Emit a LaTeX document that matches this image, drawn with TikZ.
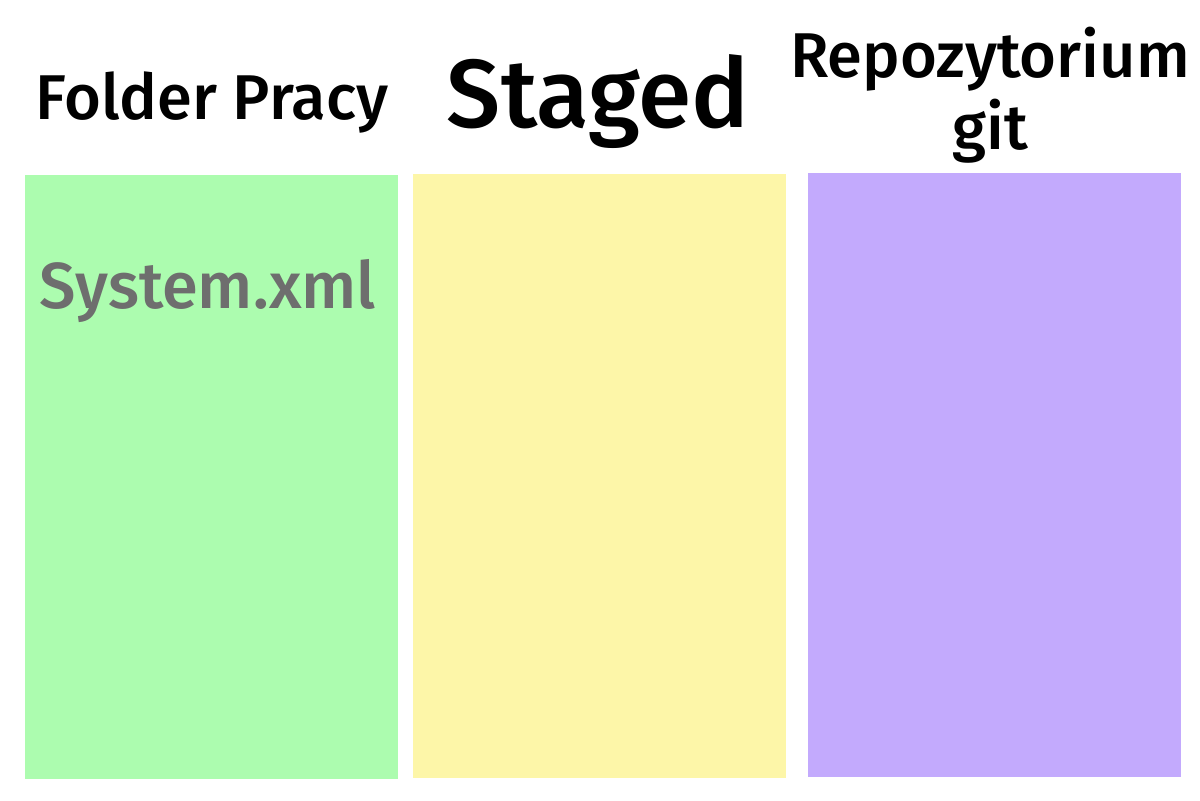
\documentclass[tikz,border=0pt]{standalone}
\usepackage{fontspec}
\setmainfont{Fira Sans}[UprightFont=* Medium]
\usepackage{tikz}
\usetikzlibrary{positioning}
\definecolor{areagreen}{HTML}{ACFCAF}
\definecolor{areayellow}{HTML}{FDF6A8}
\definecolor{areapurple}{HTML}{C3AAFD}
\definecolor{filegray}{HTML}{6E6E6E}
\tikzset{
  area/.style={draw=none,minimum width=7.46cm,minimum height=12.08cm,anchor=south west,inner sep=0pt},
  title/.style={align=center,font=\fontsize{36}{41}\selectfont},
  bigtitle/.style={font=\fontsize{55}{58}\selectfont},
  file/.style={text=filegray,font=\fontsize{37}{40}\selectfont}
}
\begin{document}
\begin{tikzpicture}
  \useasboundingbox (0,0) rectangle (24,16);
  \node[area,fill=areagreen] (work) at (0.5,0.42) {};
  \node[area,fill=areayellow] (stage) at (8.26,0.44) {};
  \node[area,fill=areapurple] (repo) at (16.16,0.46) {};
  \node[title] (worklabel) at (4.24,13.95) {Folder Pracy};
  \node[bigtitle] (stagelabel) at (11.96,13.96) {Staged};
  \node[title] (repolabel) at (19.8,14.1) {Repozytorium\\git};
  \node[file] (sysfile) at (4.16,10.17) {System.xml};
\end{tikzpicture}
\end{document}
